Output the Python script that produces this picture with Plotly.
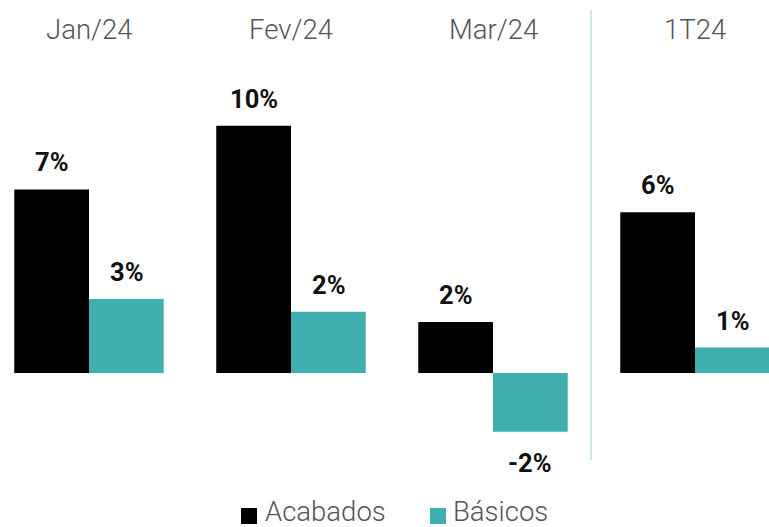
import plotly.graph_objects as go

categories = ["Jan/24", "Fev/24", "Mar/24", "1T24"]
acabados = [7.2, 9.7, 2.0, 6.3]
basicos = [2.9, 2.4, -2.3, 1.0]
acabados_labels = ["7%", "10%", "2%", "6%"]
basicos_labels = ["3%", "2%", "-2%", "1%"]
series_names = ["Acabados", "Básicos"]

BLACK = "#000000"
TEAL = "#3fafaf"

fig = go.Figure()
fig.add_trace(go.Bar(x=categories, y=acabados, name=series_names[0], marker_color=BLACK,
                     marker_line_width=0, hoverinfo="skip", showlegend=False))
fig.add_trace(go.Bar(x=categories, y=basicos, name=series_names[1], marker_color=TEAL,
                     marker_line_width=0, hoverinfo="skip", showlegend=False))

W, H = 769, 527
px_per_pct = 25.5
zero_px = 373
y_top = zero_px / px_per_pct
y_bot = -(H - zero_px) / px_per_pct
spacing = 202
x_left = -89 / spacing
x_right = 3 + (W - 695) / spacing

annotations = []
for i, c in enumerate(categories):
    annotations.append(dict(x=c, y=1 - 30 / H, xref="x", yref="paper", text=c,
                            showarrow=False,
                            font=dict(family="Roboto", size=27.5, color="#555555", weight=300),
                            yanchor="middle"))
    for val, lab, off in ((acabados[i], acabados_labels[i], -0.185),
                          (basicos[i], basicos_labels[i], 0.185)):
        annotations.append(dict(x=i + off, y=val, xref="x", yref="y", text="<b>" + lab + "</b>",
                                showarrow=False,
                                font=dict(family="Roboto", size=25.5, color="#111111"),
                                yanchor="middle",
                                yshift=27 if val >= 0 else -31))

# custom legend
shapes = [dict(type="line", xref="paper", yref="paper", x0=591 / W, x1=591 / W,
               y0=1 - 460 / H, y1=1 - 10 / H, line=dict(color="#a8dada", width=1.2))]
legend_items = [(241, BLACK, series_names[0], 263), (430, TEAL, series_names[1], 451)]
for sx, col, name, tx in legend_items:
    shapes.append(dict(type="rect", xref="paper", yref="paper",
                       x0=sx / W, x1=(sx + 16) / W, y0=1 - 524 / H, y1=1 - 508 / H,
                       fillcolor=col, line=dict(width=0)))
    annotations.append(dict(x=tx / W, y=1 - 511 / H, xref="paper", yref="paper", text=name,
                            showarrow=False, xanchor="left", yanchor="middle",
                            font=dict(family="Roboto", size=27.5, color="#555555", weight=300)))

fig.update_layout(
    width=W, height=H,
    margin=dict(l=0, r=0, t=0, b=0),
    paper_bgcolor="white", plot_bgcolor="white",
    barmode="group", bargap=0.26, bargroupgap=0,
    xaxis=dict(type="category", range=[x_left, x_right], visible=False),
    yaxis=dict(range=[y_bot, y_top], visible=False),
    showlegend=False,
    annotations=annotations,
    shapes=shapes,
)

fig.write_html("out.html",
               config={"displayModeBar": False},
               post_script="document.body.style.margin='0';document.body.style.overflow='hidden';")
